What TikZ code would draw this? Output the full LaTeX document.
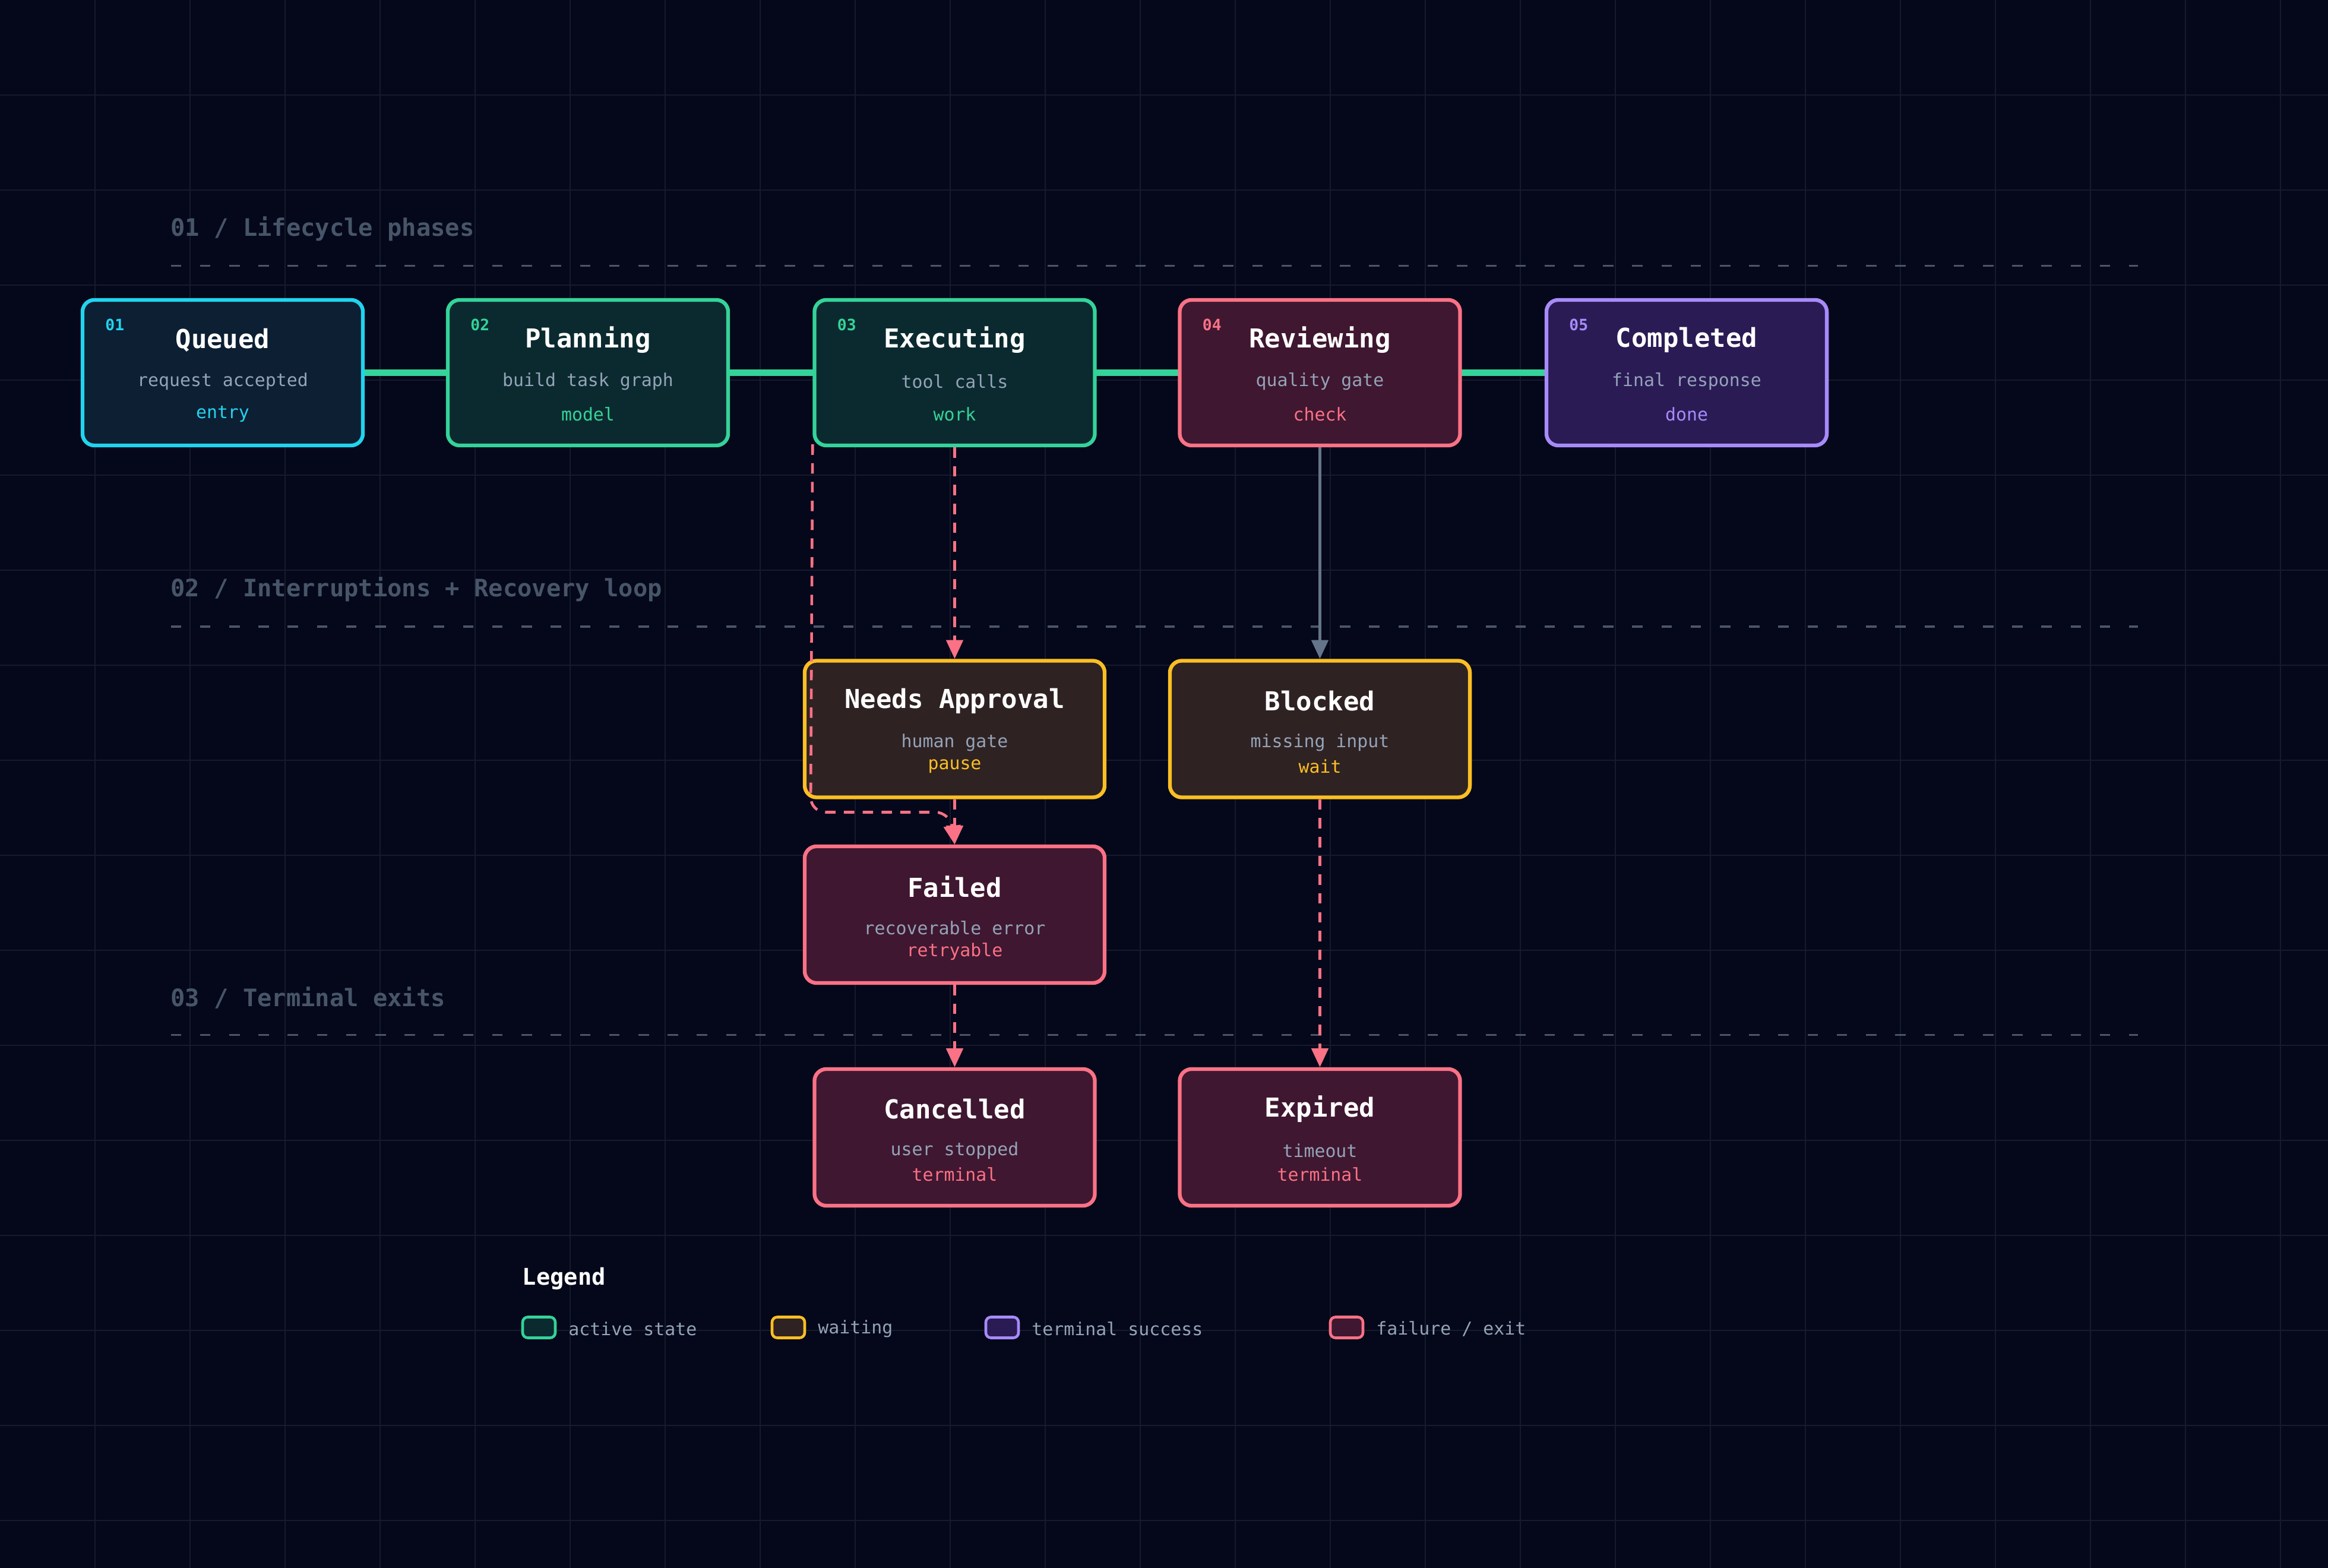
\documentclass[tikz,border=0pt]{standalone}
\usepackage{fontspec}
\setmonofont{DejaVu Sans Mono}
\usetikzlibrary{positioning, arrows.meta, calc}
\definecolor{bg}{HTML}{05081A}
\definecolor{gridc}{HTML}{151B2C}
\definecolor{cyanc}{HTML}{22D3EE}\definecolor{cyanf}{HTML}{0C1F33}
\definecolor{greenc}{HTML}{34D399}\definecolor{greenf}{HTML}{0B2A2F}
\definecolor{pinkc}{HTML}{FB7185}\definecolor{pinkf}{HTML}{3F1730}
\definecolor{purpc}{HTML}{A78BFA}\definecolor{purpf}{HTML}{2A1B55}
\definecolor{yellc}{HTML}{FBBF24}\definecolor{yellf}{HTML}{2F2222}
\definecolor{subc}{HTML}{94A3B8}
\definecolor{secc}{HTML}{475569}
\definecolor{linec}{HTML}{4B5568}
\definecolor{grayarrow}{HTML}{64748B}
\tikzset{
  box/.style={draw=#1c, fill=#1f, rounded corners=0.2cm, line width=1.8pt, minimum width=4.72cm, minimum height=2.45cm},
  wide/.style={minimum width=5.05cm, minimum height=2.3cm},
  title/.style={text=white, font=\ttfamily\bfseries\fontsize{12.5}{14}\selectfont},
  sub/.style={text=subc, font=\ttfamily\fontsize{8.5}{10}\selectfont},
  tag/.style={text=#1c, font=\ttfamily\fontsize{8.5}{10}\selectfont},
  num/.style={text=#1c, font=\ttfamily\bfseries\fontsize{7.5}{8}\selectfont},
  section/.style={text=secc, font=\ttfamily\bfseries\fontsize{11.5}{13}\selectfont, anchor=west},
  divider/.style={linec, line width=0.9pt, dash pattern=on 5pt off 9pt},
  flow/.style={greenc, line width=3pt},
  fail/.style={pinkc, line width=1.3pt, dash pattern=on 5pt off 4pt, -{Triangle[length=9pt,width=8pt]}},
  swatch/.style={draw=#1c, fill=#1f, rounded corners=2.5pt, line width=1.3pt, minimum width=0.55cm, minimum height=0.35cm, inner sep=0pt},
  legtext/.style={text=subc, font=\ttfamily\fontsize{8.5}{10}\selectfont, anchor=west}
}
% phase node: name, x, colour, number, title, subtitle, tag
\newcommand{\phasebox}[7]{
  \node (#1) [box=#3] at (#2,251) {};
  \node (#1-n) [num=#3] at ($(#1.north west)+(23,18)$) {#4};
  \node (#1-t) [title] at ($(#1.center)+(0,-22)$) {#5};
  \node (#1-s) [sub] at ($(#1.center)+(0,6)$) {#6};
  \node (#1-g) [tag=#3] at ($(#1.center)+(0,28)$) {#7};
}
% side node: name, x, y, colour, title, subtitle, tag, extra style
\newcommand{\sidebox}[8]{
  \node (#1) [box=#4, #8] at (#2,#3) {};
  \node (#1-t) [title] at ($(#1.center)+(0,-19)$) {#5};
  \node (#1-s) [sub] at ($(#1.center)+(0,9)$) {#6};
  \node (#1-g) [tag=#4] at ($(#1.center)+(0,25)$) {#7};
}

\begin{document}
\begin{tikzpicture}[x=0.025cm, y=-0.025cm]
  \fill [bg] (0,0) rectangle (1568,1056);
  \useasboundingbox (0,0) rectangle (1568,1056);
  \foreach \i in {64,128,...,1536}
    \draw [gridc, line width=0.6pt] (\i,0) -- (\i,1056);
  \foreach \j in {64,128,...,1024}
    \draw [gridc, line width=0.6pt] (0,\j) -- (1568,\j);

  % sections
  \node (s1) [section] at (110,154) {01 / Lifecycle phases};
  \node (s2) [section] at (110,397) {02 / Interruptions + Recovery loop};
  \node (s3) [section] at (110,672) {03 / Terminal exits};
  \draw [divider] (115,179) -- (1440,179);
  \draw [divider] (115,422) -- (1440,422);
  \draw [divider] (115,697) -- (1440,697);

  % lifecycle
  \draw [flow] (150,251) -- (1136,251);
  \phasebox{queued}{150}{cyan}{01}{Queued}{request accepted}{entry}
  \phasebox{planning}{396}{green}{02}{Planning}{build task graph}{model}
  \phasebox{executing}{643}{green}{03}{Executing}{tool calls}{work}
  \phasebox{reviewing}{889}{pink}{04}{Reviewing}{quality gate}{check}
  \phasebox{completed}{1136}{purp}{05}{Completed}{final response}{done}

  % interruptions
  \sidebox{approval}{643}{491}{yell}{Needs Approval}{human gate}{pause}{wide}
  \sidebox{blocked}{889}{491}{yell}{Blocked}{missing input}{wait}{wide}
  \sidebox{failed}{643}{616}{pink}{Failed}{recoverable error}{retryable}{wide}

  % exits
  \sidebox{cancelled}{643}{766}{pink}{Cancelled}{user stopped}{terminal}{minimum height=2.3cm}
  \sidebox{expired}{889}{766}{pink}{Expired}{timeout}{terminal}{minimum height=2.3cm}

  \coordinate (loop) at ($(executing.south west)+(0,-2)$);
  \draw [fail] (executing) -- (approval);
  \draw [fail] (approval) -- (failed);
  \draw [fail, rounded corners=0.25cm] (loop) -- (546,547) -- (640,547) -- (failed.north);
  \draw [grayarrow, line width=1.3pt, -{Triangle[length=9pt,width=8pt]}] (reviewing) -- (blocked);
  \draw [fail] (blocked) -- (expired);
  \draw [fail] (failed) -- (cancelled);

  % legend
  \node (leg) [text=white, font=\ttfamily\bfseries\fontsize{11}{12}\selectfont, anchor=west] at (347,861) {Legend};
  \node (l1) [swatch=green] at (363,894) {};
  \node (l1-t) [legtext] at (378,895) {active state};
  \node (l2) [swatch=yell] at (531,894) {};
  \node (l2-t) [legtext] at (546,895) {waiting};
  \node (l3) [swatch=purp] at (675,894) {};
  \node (l3-t) [legtext] at (690,895) {terminal success};
  \node (l4) [swatch=pink] at (907,894) {};
  \node (l4-t) [legtext] at (922,895) {failure / exit};
\end{tikzpicture}
\end{document}
